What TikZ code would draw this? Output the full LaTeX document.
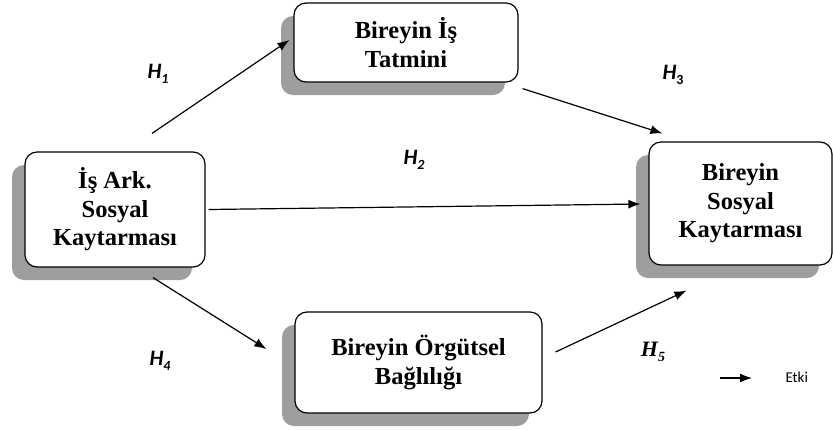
\documentclass[tikz,border=0pt]{standalone}
\usepackage{fontspec}
\setmainfont{Liberation Serif}
\newfontfamily\carlito{Carlito}
\usetikzlibrary{arrows.meta,shadows,calc}

\begin{document}
\begin{tikzpicture}[x=1pt,y=-1pt,
		kutu/.style={draw,line width=1.2pt,rounded corners=12pt,fill=white,align=center,inner sep=0pt,
			font=\fontsize{24.5}{28.5}\selectfont\bfseries,
			drop shadow={shadow xshift=-13pt,shadow yshift=-13pt,fill=black!38,opacity=1}},
		ok/.style={line width=1.2pt,-{Latex[length=12pt,width=9pt]}},
		hip/.style={font=\carlito\fontsize{22}{22}\selectfont\bfseries\itshape}]
			\useasboundingbox (0,0) rectangle (833,429);
			\node at (115,209.5) [kutu,minimum width=180pt,minimum height=115pt] (isark) {İş Ark.\\Sosyal\\Kaytarması};
			\node at (406,42.5) [kutu,minimum width=224pt,minimum height=79pt] (tatmin) {Bireyin İş\\Tatmini};
			\node at (740.5,203.5) [kutu,minimum width=183pt,minimum height=123pt] (sosyal) {Bireyin\\Sosyal\\Kaytarması};
			\node at (418.5,362.5) [kutu,minimum width=247pt,minimum height=101pt] (bagli) {Bireyin Örgütsel\\Bağlılığı};
			\draw[ok] ($(isark.north)+(37,-18)$) -- ($(tatmin.west)+(-4,-2.5)$);
			\draw[ok] ($(isark.east)+(3,0)$) -- ($(sosyal.west)+(-8,0.5)$);
			\draw[ok] ($(tatmin.south east)+(4,6)$) -- ($(sosyal.north west)+(14,-8)$);
			\draw[ok] ($(isark.south)+(38,10)$) -- ($(bagli.west)+(-28,-13.5)$);
			\draw[ok] ($(bagli.east)+(13,-10.5)$) -- ($(sosyal.south west)+(38,25)$);
			\node at (158,74) [hip] (h1) {H\raisebox{-0.22em}{\fontsize{14}{14}\selectfont 1}};
			\node at (414,160) [hip] (h2) {H\raisebox{-0.22em}{\fontsize{14}{14}\selectfont 2}};
			\node at (673,75) [hip] (h3) {H\raisebox{-0.22em}{\fontsize{14}{14}\selectfont\upshape 3}};
			\node at (160,361) [hip] (h4) {H\raisebox{-0.22em}{\fontsize{14}{14}\selectfont 4}};
			\node at (653,352) [hip,font=\fontsize{22}{22}\selectfont\bfseries\itshape] (h5) {H\raisebox{-0.22em}{\fontsize{14}{14}\selectfont 5}};
			\node at (782,377) [anchor=west,font=\carlito\fontsize{15}{15}\selectfont] (etki) {Etki};
			\coordinate (etkiA) at (720,378);
			\draw[ok] (etkiA) -- ($(etki.west)+(-30,1)$);
\end{tikzpicture}
\end{document}
